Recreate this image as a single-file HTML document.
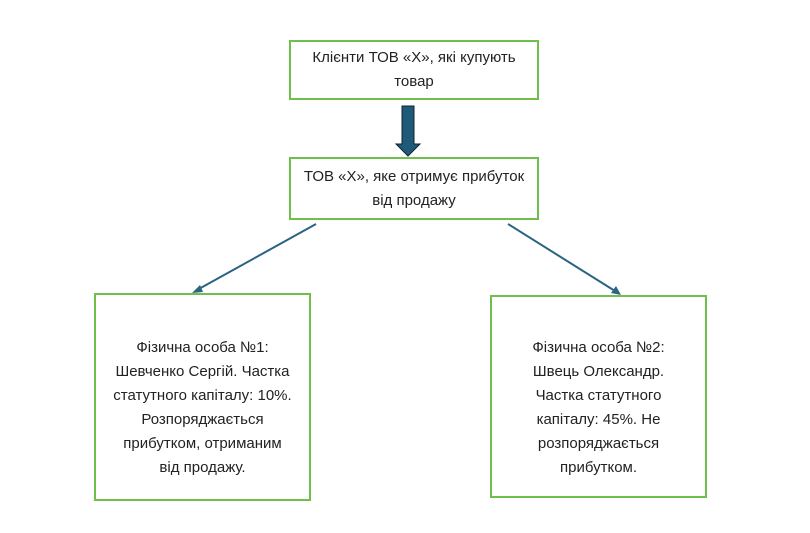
<!DOCTYPE html>
<html><head><style>
body{margin:0;width:810px;height:533px;background:#fff;position:relative;font-family:"Liberation Sans",sans-serif;color:#222}
.b{position:absolute;border:2px solid #6fbf4a;box-sizing:border-box;display:flex;align-items:center;justify-content:center;text-align:center;font-size:15px;line-height:24px}
</style></head><body>
<div class="b" style="left:289px;top:40px;width:250px;height:60px">Клієнти ТОВ «Х», які купують<br>товар</div>
<div class="b" style="left:289px;top:157px;width:250px;height:63px">ТОВ «Х», яке отримує прибуток<br>від продажу</div>
<div class="b" style="left:94px;top:293px;width:217px;height:208px;padding-top:22px">Фізична особа №1:<br>Шевченко Сергій. Частка<br>статутного капіталу: 10%.<br>Розпоряджається<br>прибутком, отриманим<br>від продажу.</div>
<div class="b" style="left:490px;top:295px;width:217px;height:203px;padding-top:22px">Фізична особа №2:<br>Швець Олександр.<br>Частка статутного<br>капіталу: 45%. Не<br>розпоряджається<br>прибутком.</div>
<svg width="810" height="533" style="position:absolute;left:0;top:0">
<polygon points="402,106 414,106 414,144 420,144 408,156 396,144 402,144" fill="#1f5a78" stroke="#123" stroke-width="1"/>
<line x1="316" y1="224" x2="197" y2="290" stroke="#2a6482" stroke-width="2"/>
<polygon points="192,293 200,285 203,292" fill="#2a6482"/>
<line x1="508" y1="224" x2="615" y2="291" stroke="#2a6482" stroke-width="2"/>
<polygon points="621,295 611,293 616,286" fill="#2a6482"/>
</svg>
</body></html>
